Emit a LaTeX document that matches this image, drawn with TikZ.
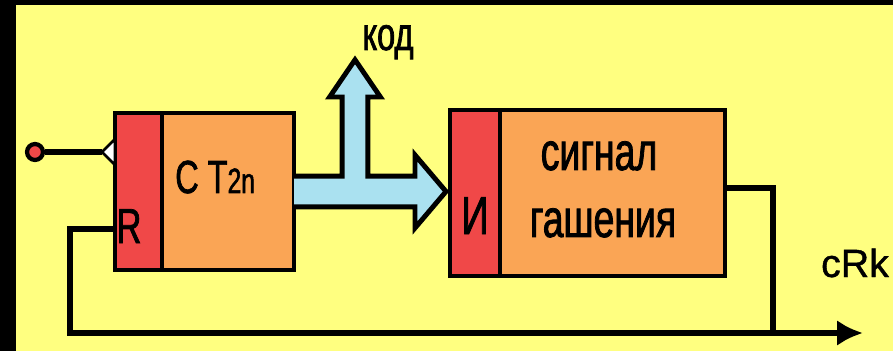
\documentclass[tikz,border=0pt]{standalone}
\usepackage{fontspec}
\usetikzlibrary{positioning,arrows.meta}
\newfontfamily\narrowsans[FakeStretch=0.7, FakeBold=1.5]{Liberation Sans}
\newfontfamily\plainsans[FakeBold=1]{Liberation Sans}
\definecolor{fondo}{RGB}{255,255,128}
\definecolor{rojo}{RGB}{240,72,72}
\definecolor{naranja}{RGB}{250,165,85}
\definecolor{celeste}{RGB}{170,225,240}
\tikzset{
  parte/.style={draw, line width=3.5pt, outer sep=0pt, inner sep=0pt},
  wire/.style={line width=4.5pt},
  texto/.style={anchor=base, inner sep=0pt}
}
\begin{document}
\begin{tikzpicture}
    % Fondo
    \useasboundingbox (0,0) rectangle (22.325,8.775);
    \fill[black] (0,0) rectangle (22.325,8.775);
    \fill[fondo] (0.4,0) rectangle (22.325,8.65);

    % Bloques
    \node[parte, fill=rojo, minimum width=1.175cm, minimum height=3.925cm] (r1) at (3.4625,3.9875) {};
    \node[parte, fill=naranja, minimum width=3.3cm, minimum height=3.925cm, right=0pt of r1] (o1) {};
    \node[parte, fill=rojo, minimum width=1.25cm, minimum height=4.15cm] (r2) at (11.875,3.95) {};
    \node[parte, fill=naranja, minimum width=5.625cm, minimum height=4.15cm, right=0pt of r2] (o2) {};

    % Entrada
    \node[circle, draw, line width=3pt, fill=rojo, minimum size=0.4cm, inner sep=0pt] (in1) at (0.875,4.975) {};
    \coordinate (clk) at (2.55,4.975);
    \coordinate (out) at (21.575,0.45);
    \draw[wire] (in1) -- (clk);
    \filldraw[fill=white, line width=2pt] (clk) -- (2.875,5.3) -- (2.875,4.65) -- cycle;

    % Lazo
    \draw[wire] (o2.east |- 0,4.075) -| (19.325,0.45);
    \draw[wire, -{Latex[length=0.65cm, width=0.65cm]}] (r1.west |- 0,3.05) -| (1.75,0.45) -- (out);

    % Bus
    \filldraw[fill=celeste, line width=3.5pt] (7.35,4.37) -- (8.555,4.37) -- (8.555,6.35) -- (8.24,6.35)
        -- (8.875,7.28) -- (9.51,6.35) -- (9.195,6.35) -- (9.195,4.37) -- (10.375,4.37) -- (10.375,4.9)
        -- (11.15,3.9875) -- (10.375,3.075) -- (10.375,3.605) -- (7.35,3.605);

    % Textos
    \node[texto, font=\narrowsans\fontsize{35}{37}\selectfont] (lblR) at (3.225,2.7) {R};
    \node[texto, anchor=base west, font=\narrowsans\fontsize{33}{35}\selectfont] (lblCT) at (4.375,3.95) {C T{\fontsize{25}{27}\selectfont 2n}};
    \node[texto, font=\narrowsans\fontsize{38}{40}\selectfont] (lblI) at (11.875,2.925) {И};
    \node[texto, font=\narrowsans\fontsize{38}{40}\selectfont] (lblsig) at (14.975,4.525) {сигнал};
    \node[texto, font=\narrowsans\fontsize{38}{40}\selectfont] (lblgash) at (15.075,2.85) {гашения};
    \node[texto, font=\narrowsans\fontsize{33}{35}\selectfont] (lblkod) at (9.7,7.525) {код};
    \node[texto, font=\plainsans\fontsize{28}{30}\selectfont] (lblcrk) at (21.375,1.85) {cRk};

\end{tikzpicture}
\end{document}
